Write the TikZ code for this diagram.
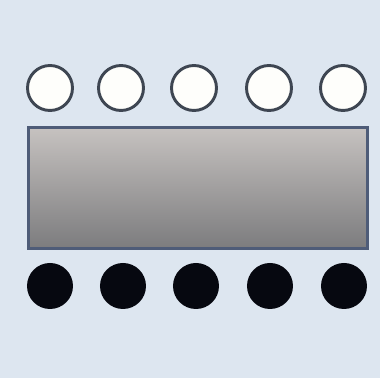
\documentclass[tikz,border=0pt]{standalone}
\begin{document}
\begin{tikzpicture}[x=0.75pt,y=-0.75pt,
  bg/.style={fill=bgc, draw=none},
  pinin/.style={circle, minimum size=45*0.75pt, inner sep=0pt, fill=pinfill, draw=ringc, line width=2.2pt},
  pinout/.style={circle, minimum size=46*0.75pt, inner sep=0pt, fill=blackc, draw=none},
  body/.style={draw=edgec, line width=2pt, top color=topc, bottom color=botc}]
\definecolor{bgc}{RGB}{221,230,240}
\definecolor{pinfill}{RGB}{254,254,251}
\definecolor{ringc}{RGB}{62,70,82}
\definecolor{blackc}{RGB}{6,8,16}
\definecolor{edgec}{RGB}{78,92,120}
\definecolor{topc}{RGB}{198,194,192}
\definecolor{botc}{RGB}{124,124,126}
\useasboundingbox (0,0) rectangle (380,378);
\path[bg] (0,0) rectangle (380,378);
\foreach \i/\x in {1/50,2/121,3/194,4/269,5/343}{
  \node[pinin] (in\i) at (\x,88) {};
}
\node[body, minimum width=339*0.75pt, minimum height=121*0.75pt, inner sep=0pt, anchor=north west] (chip) at (27,126) {};
\foreach \i/\x in {1/50,2/123,3/196,4/270,5/344}{
  \node[pinout] (out\i) at (\x,286) {};
}
\end{tikzpicture}
\end{document}
